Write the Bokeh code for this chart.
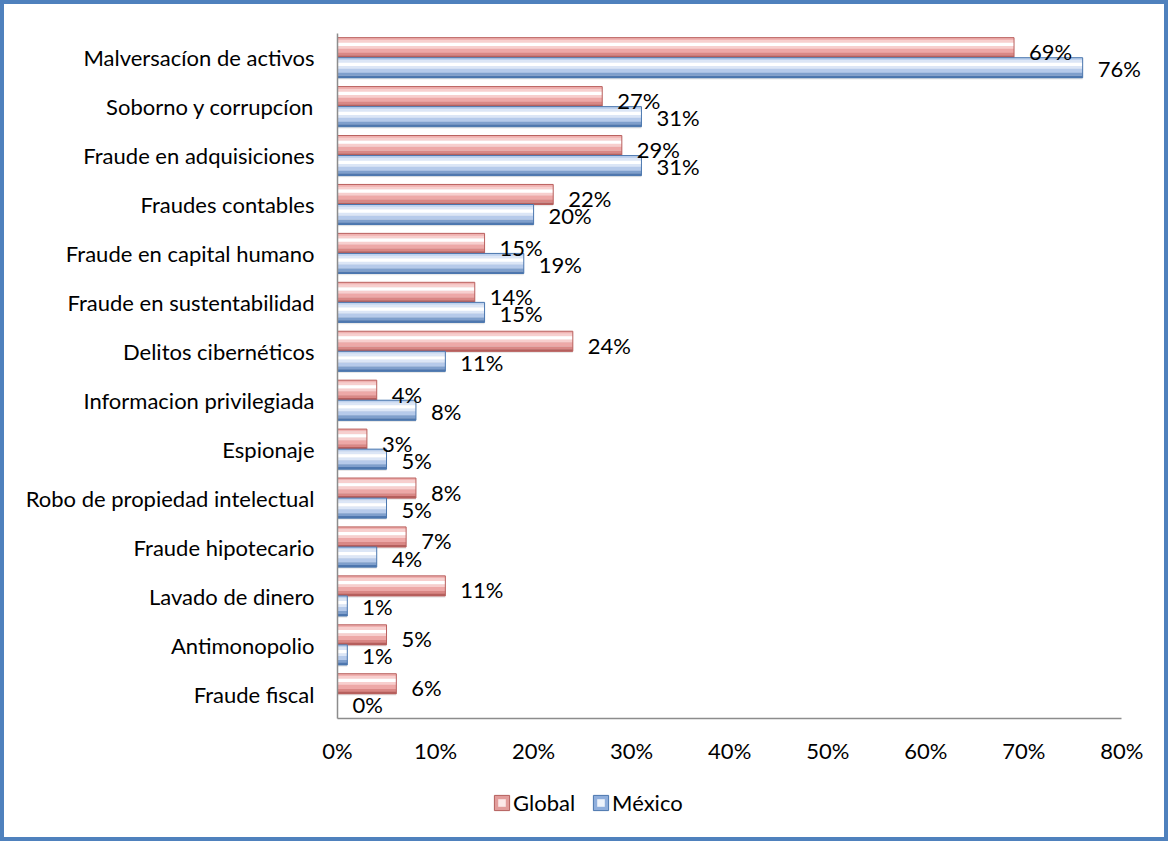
from bokeh.plotting import figure
from bokeh.layouts import column
from bokeh.models import (ColumnDataSource, FactorRange, Range1d, FixedTicker,
                          PrintfTickFormatter, LabelSet, Legend, LegendItem)
from bokeh.transform import dodge
from bokeh.core.properties import value
from bokeh.embed import file_html
from bokeh.resources import INLINE

categories = ["Malversacíon de activos", "Soborno y corrupcíon", "Fraude en adquisiciones",
              "Fraudes contables", "Fraude en capital humano", "Fraude en sustentabilidad",
              "Delitos cibernéticos", "Informacion privilegiada", "Espionaje",
              "Robo de propiedad intelectual", "Fraude hipotecario", "Lavado de dinero",
              "Antimonopolio", "Fraude fiscal"]
global_vals = [69, 27, 29, 22, 15, 14, 24, 4, 3, 8, 7, 11, 5, 6]
mexico_vals = [76, 31, 31, 20, 19, 15, 11, 8, 5, 5, 4, 1, 1, 0]
series_names = ["Global", "México"]
x_ticks = [0, 10, 20, 30, 40, 50, 60, 70, 80]

FONT = "Lato"
FS = "22px"

src = ColumnDataSource(dict(
    cat=categories,
    glob=global_vals,
    mex=mexico_vals,
    glob_txt=[f"{v}%" for v in global_vals],
    mex_txt=[f"{v}%" for v in mexico_vals],
))

p = figure(width=1168, height=775, output_backend="svg", toolbar_location=None,
           y_range=FactorRange(factors=list(reversed(categories))),
           x_range=Range1d(0, 82),
           min_border_left=337, min_border_right=27, min_border_top=33,
           min_border_bottom=57)
p.outline_line_color = None
p.background_fill_color = "white"
p.border_fill_alpha = 0
p.xgrid.visible = False
p.ygrid.visible = False

H = 0.41
cg = 0.21
cm = -0.20

red_strips = [(0.00, 0.12, "#F0B2B1"), (0.12, 0.26, "#F7CFCE"), (0.26, 0.42, "#FFFFFF"),
              (0.42, 0.56, "#F7CFCE"), (0.56, 0.76, "#EDA8A7"), (0.76, 0.90, "#D98785"),
              (0.90, 1.00, "#B55F5D")]
blue_strips = [(0.00, 0.12, "#BFD2EE"), (0.12, 0.26, "#DCE6F6"), (0.26, 0.42, "#FFFFFF"),
               (0.42, 0.56, "#DCE6F6"), (0.56, 0.76, "#B6CAEA"), (0.76, 0.90, "#7F9FCC"),
               (0.90, 1.00, "#4F77AE")]

def layers(field, c, strips, line_col):
    p.hbar(y=dodge("cat", c - 0.035, range=p.y_range), left=0, right=field, height=H,
           source=src, fill_color="#000000", fill_alpha=0.09, line_color=None)
    top = c + H / 2
    for f0, f1, col in strips:
        yc = top - H * (f0 + f1) / 2
        p.hbar(y=dodge("cat", yc, range=p.y_range), left=0, right=field,
               height=H * (f1 - f0) + 0.004, source=src, fill_color=col, line_color=None)
    p.hbar(y=dodge("cat", c, range=p.y_range), left=0, right=field, height=H,
           source=src, fill_alpha=0, line_color=line_col, line_width=1)

layers("glob", cg, red_strips, "#B9605E")
layers("mex", cm, blue_strips, "#4A76AE")

p.add_layout(LabelSet(x="glob", y=dodge("cat", cg, range=p.y_range), text="glob_txt",
                      source=src, x_offset=15, y_offset=-4, text_baseline="middle",
                      text_font=value(FONT), text_font_size=FS, text_color="black"))
p.add_layout(LabelSet(x="mex", y=dodge("cat", cm, range=p.y_range), text="mex_txt",
                      source=src, x_offset=15, y_offset=-1, text_baseline="middle",
                      text_font=value(FONT), text_font_size=FS, text_color="black"))

p.xaxis.ticker = FixedTicker(ticks=x_ticks)
p.xaxis.formatter = PrintfTickFormatter(format="%d%%")
p.xaxis.bounds = (0, 80)
for ax in (p.xaxis[0], p.yaxis[0]):
    ax.axis_line_color = "#8C8C8C"
    ax.axis_line_width = 1.5
    ax.major_tick_line_color = None
    ax.minor_tick_line_color = None
    ax.major_label_text_font = FONT
    ax.major_label_text_font_size = FS
    ax.major_label_text_color = "black"
p.xaxis.major_label_standoff = 12
p.yaxis.major_label_standoff = 17

# legend strip below the chart (its frame is aligned with the chart's frame)
lg = figure(width=1168, height=66, output_backend="svg", toolbar_location=None,
            x_range=Range1d(0, 1), y_range=Range1d(0, 1),
            x_axis_type=None, y_axis_type=None,
            min_border_left=337, min_border_right=27, min_border_top=0,
            min_border_bottom=0)
lg.outline_line_color = None
lg.border_fill_alpha = 0
lg.background_fill_alpha = 0
lg.xgrid.visible = False
lg.ygrid.visible = False
swatch = ColumnDataSource(dict(y=[-10.0], right=[1.0], x=[-10.0]))
g_sw = lg.hbar(y="y", right="right", left=0, height=0.5, source=swatch,
               fill_color="#E29C9B", line_color="#B35E5C", line_width=1)
g_hi = lg.scatter(x="x", y="y", source=swatch, marker="square", size=6,
                  fill_color="#FCE9E9", line_color=None)
m_sw = lg.hbar(y="y", right="right", left=0, height=0.5, source=swatch,
               fill_color="#8FAEDC", line_color="#4A76AE", line_width=1)
m_hi = lg.scatter(x="x", y="y", source=swatch, marker="square", size=6,
                  fill_color="#EEF3FB", line_color=None)
legend = Legend(items=[LegendItem(label=series_names[0], renderers=[g_sw, g_hi]),
                       LegendItem(label=series_names[1], renderers=[m_sw, m_hi])],
                orientation="horizontal", location=(155, 25),
                glyph_width=19, glyph_height=19, label_standoff=2, spacing=16,
                label_text_font=FONT, label_text_font_size=FS, label_text_color="black",
                border_line_color=None, background_fill_alpha=0, padding=0,
                margin=0)
lg.add_layout(legend, "center")

layout = column(p, lg, spacing=0)
layout.styles = {"box-shadow": "inset 0 0 0 4px #4F81BD", "background-color": "white"}

open("out.html", "w").write(file_html(layout, INLINE))
